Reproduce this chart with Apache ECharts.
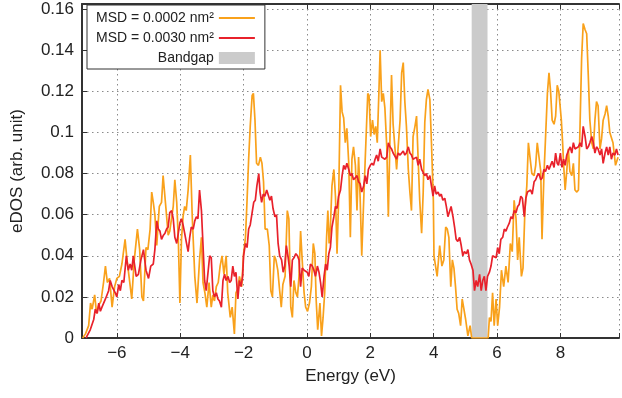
<!DOCTYPE html>
<html><head><meta charset="utf-8">
<script src="https://cdn.jsdelivr.net/npm/echarts@6/dist/echarts.min.js"></script>
<style>html,body{margin:0;padding:0;background:#fff}#c{width:622px;height:398px}</style>
</head><body><div id="c"></div>
<script>
const xTicks = [-6, -4, -2, 0, 2, 4, 6, 8];
const yTicks = [0, 0.02, 0.04, 0.06, 0.08, 0.1, 0.12, 0.14, 0.16];
const bandgap = [5.2, 5.7];
const seriesNames = ['MSD = 0.0002 nm²', 'MSD = 0.0030 nm²', 'Bandgap'];
const axisNames = ['Energy (eV)', 'eDOS (arb. unit)'];

const msd0002 = [[-7.08,0],[-6.99,0.002],[-6.89,0.006],[-6.83,0.017],[-6.78,0.014],[-6.7,0.021],[-6.64,0.012],[-6.57,0.016],[-6.5,0.018],[-6.42,0.027],[-6.36,0.035],[-6.3,0.027],[-6.23,0.029],[-6.15,0.015],[-6.07,0.025],[-6.0,0.029],[-5.92,0.030],[-5.84,0.036],[-5.74,0.048],[-5.68,0.038],[-5.6,0.028],[-5.53,0.019],[-5.45,0.038],[-5.35,0.053],[-5.28,0.043],[-5.21,0.020],[-5.16,0.018],[-5.08,0.044],[-5.02,0.043],[-4.95,0.053],[-4.9,0.071],[-4.85,0.066],[-4.8,0.060],[-4.74,0.045],[-4.7,0.055],[-4.66,0.064],[-4.59,0.066],[-4.54,0.079],[-4.45,0.063],[-4.38,0.050],[-4.33,0.052],[-4.22,0.064],[-4.17,0.077],[-4.11,0.066],[-4.06,0.048],[-4.01,0.017],[-3.96,0.048],[-3.91,0.059],[-3.86,0.064],[-3.81,0.062],[-3.75,0.072],[-3.68,0.089],[-3.62,0.059],[-3.54,0.030],[-3.47,0.017],[-3.39,0.038],[-3.33,0.049],[-3.28,0.027],[-3.22,0.022],[-3.16,0.015],[-3.09,0.027],[-3.02,0.015],[-2.97,0.021],[-2.92,0.018],[-2.86,0.025],[-2.8,0.027],[-2.74,0.035],[-2.68,0.040],[-2.62,0.031],[-2.55,0.040],[-2.5,0.022],[-2.42,0.010],[-2.36,0.015],[-2.29,0.002],[-2.24,0.022],[-2.18,0.024],[-2.13,0.030],[-2.06,0.025],[-2.0,0.041],[-1.94,0.049],[-1.89,0.067],[-1.84,0.087],[-1.79,0.103],[-1.73,0.118],[-1.69,0.119],[-1.64,0.106],[-1.59,0.085],[-1.53,0.084],[-1.47,0.088],[-1.42,0.085],[-1.37,0.076],[-1.32,0.053],[-1.25,0.053],[-1.19,0.045],[-1.14,0.023],[-1.09,0.020],[-1.03,0.040],[-0.98,0.038],[-0.92,0.033],[-0.86,0.023],[-0.81,0.015],[-0.76,0.026],[-0.69,0.030],[-0.62,0.062],[-0.57,0.058],[-0.51,0.015],[-0.46,0.010],[-0.41,0.028],[-0.35,0.022],[-0.3,0.020],[-0.25,0.030],[-0.2,0.052],[-0.15,0.038],[-0.09,0.022],[-0.04,0.015],[0.02,0.013],[0.08,0.017],[0.14,0.025],[0.2,0.046],[0.25,0.041],[0.29,0.019],[0.34,0.004],[0.41,0.017],[0.46,0.001],[0.51,0.010],[0.56,0.022],[0.62,0.049],[0.66,0.062],[0.7,0.046],[0.74,0.054],[0.79,0.074],[0.85,0.082],[0.9,0.069],[0.95,0.041],[1.0,0.067],[1.06,0.123],[1.11,0.110],[1.16,0.107],[1.21,0.095],[1.26,0.102],[1.32,0.085],[1.37,0.049],[1.42,0.087],[1.47,0.093],[1.53,0.084],[1.58,0.062],[1.63,0.088],[1.68,0.068],[1.73,0.040],[1.78,0.062],[1.84,0.087],[1.92,0.119],[1.96,0.118],[2.01,0.098],[2.07,0.106],[2.12,0.099],[2.17,0.103],[2.22,0.095],[2.27,0.119],[2.31,0.140],[2.36,0.115],[2.41,0.119],[2.46,0.112],[2.52,0.093],[2.57,0.059],[2.62,0.097],[2.67,0.128],[2.72,0.104],[2.78,0.092],[2.83,0.082],[2.88,0.093],[2.94,0.106],[2.99,0.129],[3.04,0.134],[3.09,0.115],[3.14,0.103],[3.2,0.082],[3.25,0.071],[3.3,0.062],[3.35,0.098],[3.41,0.103],[3.46,0.108],[3.51,0.087],[3.56,0.067],[3.62,0.051],[3.67,0.071],[3.72,0.105],[3.77,0.116],[3.82,0.121],[3.88,0.116],[3.93,0.095],[3.99,0.067],[4.01,0.040],[4.06,0.035],[4.11,0.030],[4.19,0.045],[4.26,0.035],[4.32,0.038],[4.38,0.054],[4.43,0.053],[4.48,0.049],[4.54,0.025],[4.59,0.038],[4.64,0.034],[4.69,0.025],[4.74,0.014],[4.79,0.012],[4.85,0.006],[4.9,0.019],[4.95,0.019],[5.01,0.009],[5.08,0.001],[5.15,0.006],[5.2,0],[5.72,0],[5.76,0.010],[5.81,0.008],[5.86,0.022],[5.91,0.006],[5.97,0.019],[6.02,0.006],[6.08,0.015],[6.14,0.033],[6.21,0.025],[6.28,0.035],[6.35,0.027],[6.42,0.046],[6.48,0.042],[6.54,0.067],[6.6,0.058],[6.65,0.038],[6.7,0.049],[6.77,0.030],[6.82,0.034],[6.88,0.062],[6.94,0.074],[6.99,0.095],[7.04,0.088],[7.1,0.080],[7.17,0.079],[7.22,0.084],[7.27,0.095],[7.33,0.095],[7.38,0.081],[7.42,0.048],[7.48,0.079],[7.53,0.097],[7.59,0.119],[7.64,0.129],[7.69,0.120],[7.74,0.106],[7.8,0.104],[7.85,0.108],[7.9,0.123],[7.95,0.120],[8.03,0.106],[8.07,0.095],[8.1,0.085],[8.15,0.072],[8.2,0.081],[8.25,0.092],[8.3,0.081],[8.36,0.079],[8.41,0.085],[8.46,0.072],[8.52,0.071],[8.57,0.072],[8.62,0.103],[8.67,0.136],[8.72,0.153],[8.78,0.150],[8.83,0.148],[8.88,0.128],[8.93,0.106],[8.99,0.095],[9.04,0.092],[9.09,0.106],[9.14,0.115],[9.19,0.113],[9.25,0.092],[9.3,0.097],[9.35,0.106],[9.41,0.109],[9.46,0.113],[9.51,0.108],[9.56,0.100],[9.61,0.100],[9.66,0.095],[9.74,0.084],[9.82,0.088]];

const msd0030 = [[-6.97,0],[-6.94,0.001],[-6.84,0.004],[-6.73,0.009],[-6.68,0.014],[-6.62,0.012],[-6.57,0.017],[-6.52,0.013],[-6.47,0.015],[-6.36,0.019],[-6.26,0.023],[-6.21,0.028],[-6.15,0.025],[-6.1,0.025],[-6.05,0.022],[-6.0,0.020],[-5.94,0.026],[-5.89,0.023],[-5.84,0.028],[-5.78,0.027],[-5.7,0.040],[-5.64,0.033],[-5.58,0.036],[-5.53,0.033],[-5.48,0.040],[-5.39,0.030],[-5.32,0.031],[-5.24,0.038],[-5.16,0.043],[-5.08,0.033],[-5.0,0.029],[-4.93,0.035],[-4.85,0.036],[-4.8,0.043],[-4.74,0.057],[-4.69,0.053],[-4.64,0.052],[-4.59,0.048],[-4.53,0.050],[-4.48,0.051],[-4.43,0.053],[-4.38,0.054],[-4.33,0.061],[-4.27,0.062],[-4.22,0.058],[-4.17,0.049],[-4.11,0.046],[-4.06,0.051],[-4.01,0.056],[-3.96,0.058],[-3.91,0.055],[-3.86,0.051],[-3.8,0.046],[-3.75,0.042],[-3.7,0.049],[-3.65,0.054],[-3.59,0.053],[-3.54,0.057],[-3.49,0.059],[-3.44,0.058],[-3.39,0.072],[-3.33,0.062],[-3.28,0.045],[-3.23,0.028],[-3.18,0.023],[-3.12,0.023],[-3.07,0.040],[-3.02,0.039],[-2.97,0.023],[-2.92,0.020],[-2.86,0.022],[-2.81,0.019],[-2.76,0.018],[-2.7,0.015],[-2.65,0.028],[-2.6,0.031],[-2.55,0.028],[-2.49,0.030],[-2.44,0.027],[-2.39,0.028],[-2.34,0.035],[-2.29,0.030],[-2.24,0.032],[-2.18,0.019],[-2.13,0.028],[-2.08,0.025],[-2.03,0.030],[-2.0,0.040],[-1.94,0.046],[-1.89,0.044],[-1.84,0.053],[-1.79,0.055],[-1.73,0.061],[-1.68,0.066],[-1.63,0.067],[-1.58,0.074],[-1.52,0.080],[-1.48,0.071],[-1.43,0.066],[-1.38,0.070],[-1.33,0.069],[-1.27,0.072],[-1.22,0.072],[-1.17,0.067],[-1.12,0.069],[-1.07,0.063],[-1.01,0.059],[-0.96,0.060],[-0.91,0.046],[-0.86,0.040],[-0.8,0.038],[-0.75,0.032],[-0.7,0.035],[-0.65,0.045],[-0.6,0.040],[-0.56,0.035],[-0.51,0.025],[-0.46,0.038],[-0.41,0.039],[-0.35,0.041],[-0.3,0.040],[-0.25,0.038],[-0.2,0.025],[-0.15,0.034],[-0.09,0.033],[-0.04,0.033],[0.01,0.032],[0.06,0.030],[0.11,0.036],[0.17,0.035],[0.22,0.033],[0.27,0.030],[0.33,0.035],[0.38,0.032],[0.43,0.027],[0.48,0.020],[0.54,0.030],[0.59,0.036],[0.64,0.033],[0.69,0.041],[0.74,0.044],[0.79,0.054],[0.85,0.059],[0.9,0.064],[0.95,0.063],[1.0,0.069],[1.06,0.072],[1.11,0.079],[1.16,0.084],[1.21,0.082],[1.26,0.085],[1.32,0.082],[1.37,0.079],[1.42,0.080],[1.47,0.077],[1.53,0.078],[1.58,0.079],[1.63,0.076],[1.68,0.075],[1.73,0.071],[1.79,0.074],[1.84,0.079],[1.89,0.075],[1.94,0.082],[2.0,0.084],[2.05,0.085],[2.1,0.084],[2.15,0.087],[2.2,0.089],[2.25,0.086],[2.31,0.092],[2.36,0.088],[2.41,0.088],[2.46,0.087],[2.52,0.088],[2.57,0.095],[2.62,0.093],[2.67,0.092],[2.72,0.090],[2.78,0.090],[2.83,0.087],[2.88,0.090],[2.94,0.089],[2.99,0.089],[3.04,0.091],[3.09,0.089],[3.14,0.090],[3.2,0.093],[3.25,0.090],[3.3,0.089],[3.35,0.087],[3.41,0.087],[3.46,0.088],[3.51,0.084],[3.56,0.087],[3.62,0.082],[3.67,0.082],[3.72,0.079],[3.77,0.080],[3.82,0.077],[3.88,0.079],[3.93,0.074],[3.98,0.069],[4.03,0.074],[4.08,0.070],[4.14,0.071],[4.19,0.069],[4.24,0.070],[4.29,0.067],[4.35,0.068],[4.4,0.064],[4.45,0.059],[4.5,0.059],[4.55,0.064],[4.61,0.059],[4.66,0.054],[4.71,0.048],[4.76,0.047],[4.82,0.049],[4.87,0.045],[4.92,0.040],[4.97,0.042],[5.03,0.041],[5.08,0.043],[5.13,0.038],[5.18,0.036],[5.24,0.033],[5.29,0.023],[5.34,0.028],[5.39,0.025],[5.45,0.031],[5.5,0.023],[5.55,0.028],[5.6,0.030],[5.65,0.023],[5.7,0.030],[5.76,0.032],[5.81,0.035],[5.86,0.040],[5.91,0.040],[5.97,0.039],[6.02,0.044],[6.07,0.041],[6.12,0.048],[6.18,0.049],[6.23,0.053],[6.28,0.052],[6.33,0.054],[6.39,0.056],[6.44,0.059],[6.49,0.058],[6.54,0.062],[6.6,0.061],[6.65,0.064],[6.7,0.065],[6.75,0.069],[6.8,0.068],[6.86,0.059],[6.91,0.068],[6.96,0.071],[7.01,0.071],[7.06,0.072],[7.11,0.070],[7.17,0.076],[7.22,0.077],[7.27,0.079],[7.32,0.080],[7.38,0.077],[7.43,0.078],[7.48,0.082],[7.53,0.081],[7.59,0.084],[7.64,0.082],[7.69,0.084],[7.74,0.086],[7.8,0.083],[7.85,0.090],[7.9,0.085],[7.94,0.084],[8.0,0.090],[8.05,0.083],[8.1,0.087],[8.15,0.084],[8.2,0.089],[8.25,0.091],[8.31,0.093],[8.36,0.090],[8.41,0.095],[8.46,0.092],[8.52,0.092],[8.57,0.093],[8.62,0.095],[8.67,0.093],[8.72,0.103],[8.78,0.098],[8.83,0.092],[8.88,0.093],[8.93,0.095],[8.99,0.098],[9.04,0.095],[9.09,0.090],[9.14,0.093],[9.19,0.092],[9.25,0.089],[9.3,0.092],[9.35,0.085],[9.41,0.090],[9.46,0.093],[9.51,0.089],[9.56,0.093],[9.61,0.087],[9.66,0.090],[9.72,0.089],[9.77,0.092],[9.82,0.089]];

const FONT = "'Liberation Sans', Arial, Helvetica, sans-serif";
const colors = ['#F9A11B', '#E8212B', '#CBCBCB'];
const chart = echarts.init(document.getElementById('c'), null, {renderer: 'canvas'});

const isTick = (v, list) => list.some(t => Math.abs(t - v) < 1e-6);
const fmt = v => String(+v.toFixed(2)).replace('-', '\u2212');
const gridLine = {show: true, lineStyle: {color: '#8a8a8a', width: 1, type: [1.5, 3.5]}};
const axLine = {show: true, onZero: false, lineStyle: {color: '#333', width: 2}};
const ticks = {show: true, inside: true, length: 5, lineStyle: {color: '#333', width: 1}};

chart.setOption({
  animation: false,
  backgroundColor: '#fff',
  grid: {left: 82, right: -1, top: 4, bottom: 60, containLabel: false},
  legend: {
    orient: 'vertical', left: 87, top: 5, align: 'right',
    padding: [6, 9, 4, 9], itemGap: 6, itemWidth: 36, itemHeight: 12,
    borderColor: '#333', borderWidth: 1, borderRadius: 0, backgroundColor: '#fff',
    textStyle: {fontFamily: FONT, fontSize: 14, lineHeight: 14, color: '#222'},
    data: [
      {name: seriesNames[0], itemStyle: {opacity: 0}, lineStyle: {width: 2, color: colors[0]}},
      {name: seriesNames[1], itemStyle: {opacity: 0}, lineStyle: {width: 2, color: colors[1]}},
      {name: seriesNames[2], icon: 'rect'}
    ],
    selectedMode: false
  },
  xAxis: [{
    type: 'value', min: -7.1, max: 9.85, splitNumber: 8,
    name: axisNames[0], nameLocation: 'middle', nameGap: 30,
    nameTextStyle: {fontFamily: FONT, fontSize: 17, color: '#222'},
    axisLine: axLine, axisTick: ticks,
    axisLabel: {fontFamily: FONT, fontSize: 17, color: '#222', margin: 7,
      formatter: v => isTick(v, xTicks) ? fmt(v) : ''},
    splitLine: gridLine
  }, {
    type: 'value', min: -7.1, max: 9.85, splitNumber: 8, position: 'top',
    axisLine: axLine, axisTick: ticks,
    axisLabel: {show: false}, splitLine: {show: false}
  }],
  yAxis: {
    type: 'value', min: 0, max: 0.1625, interval: 0.02,
    name: axisNames[1], nameLocation: 'middle', nameGap: 56,
    nameTextStyle: {fontFamily: FONT, fontSize: 17, color: '#222'},
    axisLine: axLine, axisTick: ticks,
    axisLabel: {fontFamily: FONT, fontSize: 17, color: '#222', margin: 8,
      formatter: v => isTick(v, yTicks) ? fmt(v) : ''},
    splitLine: gridLine
  },
  series: [
    {
      name: seriesNames[2], type: 'line', xAxisIndex: 0, data: [], symbol: 'none', z: 1,
      color: colors[2], itemStyle: {color: colors[2]}, lineStyle: {width: 0},
      markArea: {silent: true, itemStyle: {color: colors[2], opacity: 1},
        data: [[{xAxis: bandgap[0]}, {xAxis: bandgap[1]}]]}
    },
    {
      name: seriesNames[0], type: 'line', xAxisIndex: 0, data: msd0002, symbol: 'none', z: 2,
      color: colors[0], lineStyle: {color: colors[0], width: 1.7}
    },
    {
      name: seriesNames[1], type: 'line', xAxisIndex: 0, data: msd0030, symbol: 'none', z: 3,
      color: colors[1], lineStyle: {color: colors[1], width: 1.7}
    }
  ]
});
</script></body></html>
